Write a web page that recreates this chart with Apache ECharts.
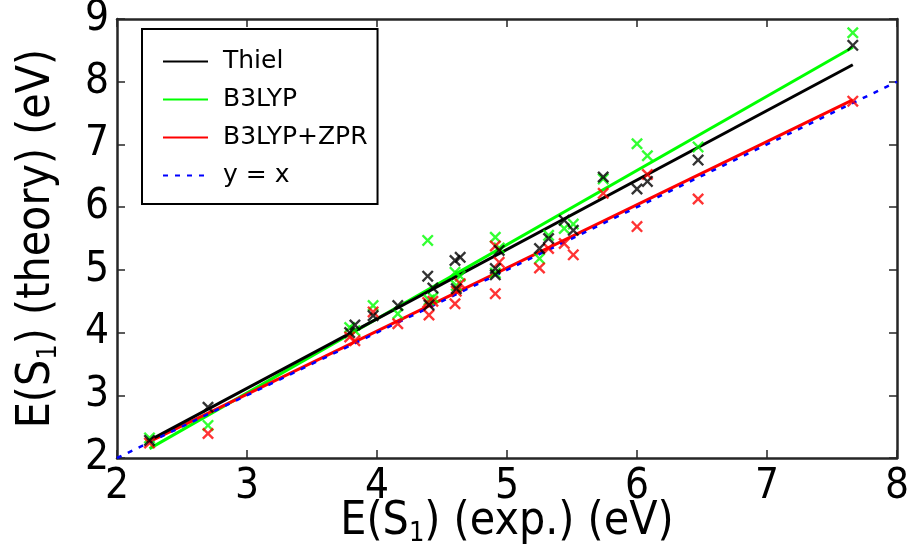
<!DOCTYPE html>
<html><head><meta charset="utf-8">
<script src="https://cdn.jsdelivr.net/npm/echarts@6/dist/echarts.min.js"></script>
<style>html,body{margin:0;padding:0;background:#fff}#c{width:913px;height:545px}</style>
</head><body><div id="c"></div>
<script>
const expX  = [2.25, 2.70, 3.79, 3.83, 3.97, 4.16, 4.39, 4.40, 4.43, 4.60, 4.61, 4.64, 4.91, 4.91, 4.94, 5.25, 5.32, 5.44, 5.51, 5.74, 6.00, 6.08, 6.47, 7.66];
const thiel = [2.28, 2.81, 4.00, 4.12, 4.27, 4.43, 4.90, 4.44, 4.71, 5.15, 4.70, 5.20, 5.02, 4.92, 5.31, 5.34, 5.50, 5.79, 5.63, 6.48, 6.29, 6.41, 6.75, 8.58];
const b3lyp = [2.32, 2.52, 4.08, 4.03, 4.43, 4.30, 5.47, 4.52, 4.56, 4.96, 4.75, 4.90, 5.52, 4.95, 5.35, 5.18, 5.55, 5.66, 5.73, 6.45, 7.01, 6.82, 6.96, 8.78];
const zpr   = [2.24, 2.39, 3.93, 3.87, 4.33, 4.14, 4.48, 4.28, 4.50, 4.46, 4.66, 4.78, 5.38, 4.62, 5.12, 5.03, 5.34, 5.42, 5.24, 6.22, 5.69, 6.52, 6.13, 7.69];
const fitX     = [2.25, 7.66];
const thielFit = [2.28, 8.27];
const b3lypFit = [2.15, 8.55];
const zprFit   = [2.26, 7.71];
const diagX    = [2, 8];
const xTicks = [2, 3, 4, 5, 6, 7, 8];
const yTicks = [2, 3, 4, 5, 6, 7, 8, 9];

const pair = (xs, ys) => xs.map((x, i) => [x, ys[i]]);
const CROSS = 'path://M0,1.4L1.4,0L5,3.6L8.6,0L10,1.4L6.4,5L10,8.6L8.6,10L5,6.4L1.4,10L0,8.6L3.6,5Z';
const axisCol = '#262626';
const FF = 'DejaVu Sans Condensed, DejaVu Sans';
const tickFont = {fontFamily: FF, fontSize: 42, color: '#000'};
const titleRich = {sub: {fontSize: 27, fontFamily: FF, verticalAlign: 'bottom', lineHeight: 27, color: '#000'}};

function fitLine(name, xs, ys, color, z) {
  return {name, type: 'line', data: pair(xs, ys), symbol: 'none', showSymbol: false, z,
    lineStyle: {color, width: 3}, itemStyle: {color}, silent: true};
}
function scatter(name, ys, color, z) {
  return {name, type: 'scatter', data: pair(expX, ys), symbol: CROSS, symbolSize: 12, z,
    itemStyle: {color}, silent: true};
}

const chart = echarts.init(document.getElementById('c'));
chart.setOption({
  animation: false,
  backgroundColor: '#fff',
  grid: {left: 117, right: 16, top: 19, bottom: 87, containLabel: false, outerBoundsMode: 'none'},
  xAxis: [{
    type: 'value', min: xTicks[0], max: xTicks[xTicks.length - 1], interval: 1,
    position: 'bottom',
    axisLine: {lineStyle: {color: axisCol, width: 2.5}},
    axisTick: {inside: true, length: 8, lineStyle: {color: axisCol, width: 1.5}},
    splitLine: {show: false},
    axisLabel: Object.assign({margin: 8}, tickFont),
    name: 'E(S{sub|1}) (exp.) (eV)', nameLocation: 'middle', nameGap: 39, nameMoveOverlap: false,
    nameTextStyle: {fontFamily: FF, fontSize: 46, color: '#000', lineHeight: 50, rich: titleRich}
  }, {
    type: 'value', min: xTicks[0], max: xTicks[xTicks.length - 1], interval: 1,
    position: 'top',
    axisLine: {lineStyle: {color: axisCol, width: 2.5}},
    axisTick: {inside: true, length: 8, lineStyle: {color: axisCol, width: 1.5}},
    splitLine: {show: false}, axisLabel: {show: false}
  }],
  yAxis: [{
    type: 'value', min: yTicks[0], max: yTicks[yTicks.length - 1], interval: 1,
    position: 'left',
    axisLine: {show: true, lineStyle: {color: axisCol, width: 2.5}},
    axisTick: {show: true, inside: true, length: 8, lineStyle: {color: axisCol, width: 1.5}},
    splitLine: {show: false},
    axisLabel: Object.assign({margin: 8}, tickFont),
    name: 'E(S{sub|1}) (theory) (eV)', nameLocation: 'middle', nameGap: 55, nameRotate: 90, nameMoveOverlap: false,
    nameTextStyle: {fontFamily: FF, fontSize: 46, color: '#000', lineHeight: 50, rich: titleRich}
  }, {
    type: 'value', min: yTicks[0], max: yTicks[yTicks.length - 1], interval: 1,
    position: 'right',
    axisLine: {show: true, lineStyle: {color: axisCol, width: 2.5}},
    axisTick: {show: true, inside: true, length: 8, lineStyle: {color: axisCol, width: 1.5}},
    splitLine: {show: false}, axisLabel: {show: false}
  }],
  legend: {
    data: ['Thiel', 'B3LYP', 'B3LYP+ZPR', 'y = x'],
    orient: 'vertical', left: 142, top: 29,
    backgroundColor: '#fff', borderColor: '#000', borderWidth: 2, borderRadius: 0,
    padding: [20, 10, 16, 20],
    itemWidth: 45, itemHeight: 14, itemGap: 13,
    itemStyle: {opacity: 0},
    lineStyle: {width: 2},
    textStyle: {fontFamily: 'DejaVu Sans', fontSize: 25, color: '#000', padding: [0, 0, 0, 10]},
    selectedMode: false
  },
  series: [
    fitLine('B3LYP', fitX, b3lypFit, '#00ff00', 2),
    fitLine('B3LYP+ZPR', fitX, zprFit, '#ff0000', 3),
    fitLine('Thiel', fitX, thielFit, '#000000', 4),
    {name: 'y = x', type: 'line', data: pair(diagX, diagX), symbol: 'none', showSymbol: false, z: 5, silent: true,
      lineStyle: {color: '#0000ff', width: 2.5, type: [5, 7]}, itemStyle: {color: '#0000ff'}},
    scatter('B3LYP pts', b3lyp, '#00ff00', 6),
    scatter('ZPR pts', zpr, '#ff0000', 7),
    scatter('Thiel pts', thiel, '#000000', 8)
  ]
});
</script></body></html>
